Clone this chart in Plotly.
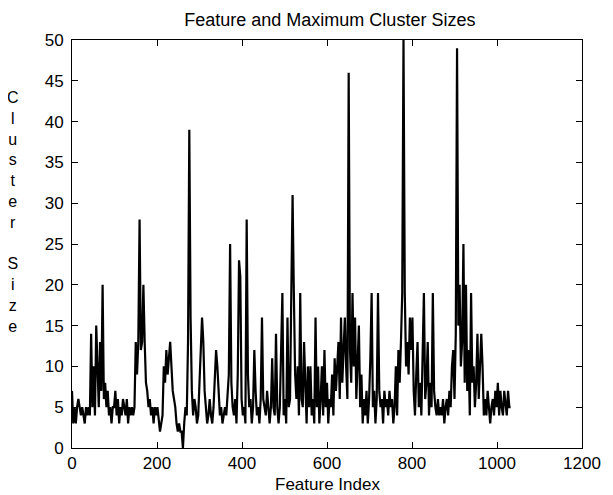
import plotly.graph_objects as go

feature_step = 3
cluster_size = [
    7, 3, 5, 3, 5, 6, 5, 4, 5, 4, 3, 5, 4, 5, 4,
    14, 5, 10, 4, 15, 8, 5, 13, 7, 20, 6, 8, 5, 7, 4,
    5, 3, 5, 5, 7, 4, 6, 3, 5, 4, 6, 5, 4, 6, 3,
    5, 4, 5, 4, 5, 13, 9, 13, 28, 12, 13, 20, 13, 8, 7,
    5, 6, 4, 5, 3, 5, 4, 5, 3, 2, 3, 4, 10, 8, 12,
    9, 11, 13, 10, 7, 6, 5, 3, 2, 3, 2, 2, 0, 3, 5,
    4, 13, 39, 16, 7, 4, 6, 5, 3, 4, 8, 12, 16, 13, 7,
    5, 3, 4, 6, 4, 3, 5, 8, 12, 10, 6, 4, 5, 3, 4,
    5, 4, 6, 9, 25, 8, 5, 4, 6, 3, 9, 23, 21, 6, 4,
    5, 3, 28, 9, 5, 6, 3, 5, 12, 7, 4, 5, 3, 6, 16,
    6, 5, 4, 7, 5, 3, 5, 11, 5, 4, 14, 5, 3, 5, 12,
    19, 4, 6, 3, 16, 5, 6, 19, 31, 19, 9, 6, 10, 4, 19,
    6, 5, 13, 7, 3, 10, 5, 10, 4, 6, 3, 16, 5, 10, 3,
    6, 10, 4, 12, 5, 8, 3, 6, 5, 9, 4, 11, 7, 10, 13,
    6, 16, 8, 12, 16, 10, 6, 46, 12, 8, 19, 10, 16, 6, 12,
    15, 5, 9, 3, 6, 4, 7, 3, 6, 11, 19, 5, 7, 3, 6,
    19, 7, 5, 6, 3, 7, 5, 6, 4, 7, 5, 6, 3, 5, 10,
    4, 12, 8, 13, 19, 50, 19, 10, 13, 9, 16, 12, 16, 7, 4,
    9, 13, 5, 8, 4, 13, 19, 6, 8, 13, 4, 8, 5, 19, 7,
    5, 4, 6, 4, 5, 4, 6, 3, 5, 6, 4, 7, 5, 10, 12,
    6, 14, 49, 15, 20, 10, 13, 25, 8, 20, 7, 12, 4, 19, 8,
    10, 5, 8, 14, 6, 11, 14, 10, 4, 6, 4, 7, 5, 3, 5,
    6, 4, 7, 5, 8, 4, 7, 5, 4, 7, 5, 4, 7, 5, 5,
]
feature_index = [i * feature_step for i in range(len(cluster_size))]

x_ticks = [0, 200, 400, 600, 800, 1000, 1200]
y_ticks = [0, 5, 10, 15, 20, 25, 30, 35, 40, 45, 50]

font_name = "Liberation Sans, Arial, sans-serif"

fig = go.Figure()
fig.add_trace(go.Scatter(
    x=feature_index, y=cluster_size,
    mode='lines',
    line=dict(color='black', width=2.2),
    showlegend=False,
))

axis_style = dict(
    showgrid=False, zeroline=False,
    showline=True, linecolor='black', linewidth=1, mirror='ticks',
    ticks='inside', ticklen=6, tickcolor='black', tickwidth=1,
    tickfont=dict(family=font_name, size=17, color='black'),
)

# page body adds 8px, so the figure is a bit smaller than the window
fig.update_layout(
    width=605, height=487,
    paper_bgcolor='white', plot_bgcolor='white',
    margin=dict(l=64, r=24, t=32, b=47),
    title=dict(text='Feature and Maximum Cluster Sizes', x=0.532, xanchor='center',
               y=0.975, yanchor='middle',
               font=dict(family=font_name, size=18, color='black')),
    xaxis=dict(range=[0, 1200], tickvals=x_ticks, **axis_style),
    yaxis=dict(range=[0, 50], tickvals=y_ticks, ticklabelstandoff=4, **axis_style),
    annotations=[
        dict(text='Feature Index', xref='paper', yref='paper', x=0.5, y=-0.09,
             xanchor='center', yanchor='middle', showarrow=False,
             font=dict(family=font_name, size=17, color='black')),
        dict(text='C<br>l<br>u<br>s<br>t<br>e<br>r<br> <br>S<br>i<br>z<br>e',
             xref='paper', yref='paper', x=-0.116, y=0.578,
             xanchor='center', yanchor='middle', showarrow=False,
             font=dict(family=font_name, size=16, color='black')),
    ],
)

fig.write_html("out.html")
